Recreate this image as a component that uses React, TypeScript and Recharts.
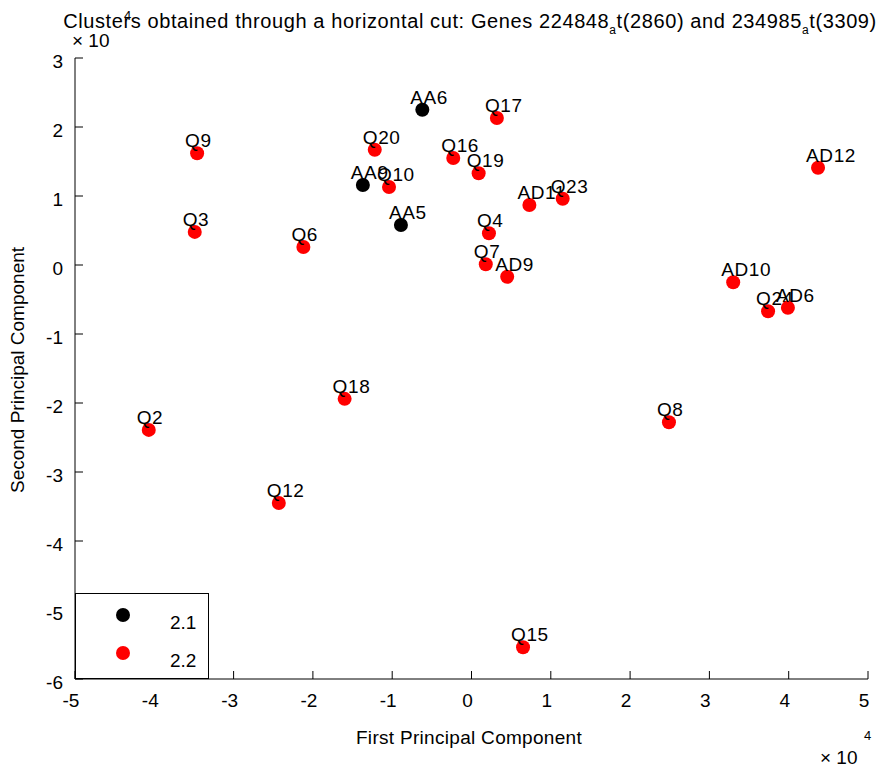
import React from 'react';
import { ScatterChart, Scatter, XAxis, YAxis, Legend } from 'recharts';

// axis ticks (values in units of 10^4)
const xTicks = [-5, -4, -3, -2, -1, 0, 1, 2, 3, 4, 5];
const yTicks = [-6, -5, -4, -3, -2, -1, 0, 1, 2, 3];

// cluster 2.1 (black)
const cluster21Names = ['AA6', 'AA9', 'AA5'];
const cluster21X = [-0.62, -1.37, -0.89];
const cluster21Y = [2.25, 1.16, 0.58];

// cluster 2.2 (red)
const cluster22Names = [
  'Q9', 'Q3', 'Q6', 'Q2', 'Q18', 'Q12', 'Q15', 'Q8', 'AD10', 'Q24', 'AD6',
  'AD12', 'Q20', 'Q16', 'Q17', 'Q19', 'Q10', 'AD11', 'Q23', 'Q4', 'Q7', 'AD9',
];
const cluster22X = [
  -3.46, -3.49, -2.12, -4.07, -1.6, -2.43, 0.65, 2.49, 3.3, 3.74, 3.99,
  4.37, -1.22, -0.23, 0.32, 0.09, -1.04, 0.73, 1.15, 0.22, 0.18, 0.45,
];
const cluster22Y = [
  1.62, 0.48, 0.26, -2.39, -1.94, -3.45, -5.54, -2.28, -0.25, -0.67, -0.62,
  1.41, 1.67, 1.55, 2.13, 1.33, 1.13, 0.87, 0.96, 0.46, 0.01, -0.17,
];

const legendNames = ['2.1', '2.2'];
const legendColors = ['#000000', '#ff0000'];

const toPoints = (names: string[], xs: number[], ys: number[]) =>
  names.map((name, i) => ({ name, x: xs[i], y: ys[i] }));

const data21 = toPoints(cluster21Names, cluster21X, cluster21Y);
const data22 = toPoints(cluster22Names, cluster22X, cluster22Y);

const FONT = '"Liberation Sans", Arial, Helvetica, sans-serif';
const FS = 19;

const makeDot = (color: string) => (props: any) => {
  const { cx, cy, payload } = props;
  return (
    <g>
      <circle cx={cx} cy={cy} r={7} fill={color} />
      <text x={cx - 12} y={cy - 6} fontSize={FS} fontFamily={FONT} letterSpacing={0.6} fill="#000">
        {payload.name}
      </text>
    </g>
  );
};

const XTick = (props: any) => {
  const { x, y, payload } = props;
  return (
    <g>
      <line x1={x} x2={x} y1={y} y2={y - 8} stroke="#000" />
      <text x={x - 4} y={y + 28} textAnchor="middle" fontSize={FS} fontFamily={FONT} fill="#000">
        {payload.value}
      </text>
    </g>
  );
};

const YTick = (props: any) => {
  const { x, y, payload } = props;
  return (
    <g>
      <line x1={x} x2={x + 8} y1={y} y2={y} stroke="#000" />
      <text x={x - 12} y={y + 10} textAnchor="end" fontSize={FS} fontFamily={FONT} fill="#000">
        {payload.value}
      </text>
    </g>
  );
};

const LegendBox = () => (
  <svg width={134} height={86} style={{ display: 'block' }}>
    <rect x={0.5} y={0.5} width={133} height={85} fill="#fff" stroke="#000" />
    {legendNames.map((name, i) => (
      <g key={name}>
        <circle cx={48} cy={22 + i * 38} r={7} fill={legendColors[i]} />
        <text x={95} y={36 + i * 38} fontSize={FS} fontFamily={FONT} fill="#000">
          {name}
        </text>
      </g>
    ))}
  </svg>
);

export default function App() {
  return (
    <div style={{ position: 'absolute', left: 0, top: 0, width: 880, height: 772, background: '#fff', fontFamily: FONT }}>
      <ScatterChart width={880} height={772} margin={{ top: 58, right: 12, bottom: 63, left: 15 }}>
        <XAxis
          type="number"
          dataKey="x"
          domain={[-5, 5]}
          ticks={xTicks}
          interval={0}
          height={30}
          tickSize={0}
          tickMargin={0}
          tickLine={false}
          axisLine={{ stroke: '#000' }}
          tick={<XTick />}
        />
        <YAxis
          type="number"
          dataKey="y"
          domain={[-6, 3]}
          ticks={yTicks}
          interval={0}
          width={60}
          tickSize={0}
          tickMargin={0}
          tickLine={false}
          axisLine={{ stroke: '#000' }}
          tick={<YTick />}
        />
        <Legend
          layout="vertical"
          align="center"
          verticalAlign="middle"
          wrapperStyle={{ left: 75, top: 593, width: 134, height: 86 }}
          content={<LegendBox />}
        />
        <Scatter name="2.2" data={data22} fill="#ff0000" shape={makeDot('#ff0000')} isAnimationActive={false} />
        <Scatter name="2.1" data={data21} fill="#000000" shape={makeDot('#000000')} isAnimationActive={false} />

        <text x={470} y={28} textAnchor="middle" fontSize={20} letterSpacing={0.6} fontFamily={FONT} fill="#000">
          Clusters obtained through a horizontal cut: Genes 224848
          <tspan dy={6} fontSize={12}>a</tspan>
          <tspan dy={-6}>t(2860) and 234985</tspan>
          <tspan dy={6} fontSize={12}>a</tspan>
          <tspan dy={-6}>t(3309)</tspan>
        </text>
        <text x={72} y={47} fontSize={FS} fontFamily={FONT} fill="#000">× 10</text>
        <text x={124} y={20} fontSize={13} fontFamily={FONT} fill="#000">4</text>
        <text x={469} y={744} textAnchor="middle" fontSize={FS} letterSpacing={0.3} fontFamily={FONT} fill="#000">
          First Principal Component
        </text>
        <text x={820} y={764} fontSize={FS} fontFamily={FONT} fill="#000">× 10</text>
        <text x={864} y={740} fontSize={13} fontFamily={FONT} fill="#000">4</text>
        <text
          x={24}
          y={370}
          textAnchor="middle"
          transform="rotate(-90 24 370)"
          fontSize={FS}
          fontFamily={FONT}
          fill="#000"
        >
          Second Principal Component
        </text>
      </ScatterChart>
    </div>
  );
}
